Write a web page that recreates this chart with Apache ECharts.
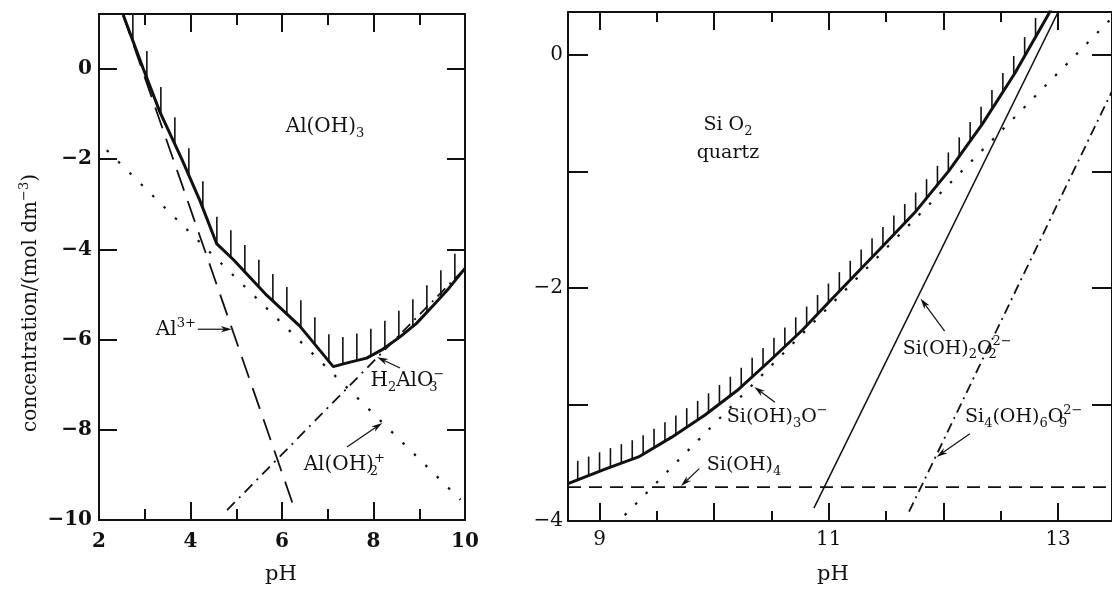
<!DOCTYPE html>
<html>
<head>
<meta charset="utf-8">
<script src="https://cdn.jsdelivr.net/npm/echarts@6/dist/echarts.min.js"></script>
<style>
  html, body { margin: 0; padding: 0; background: #fff; }
  #main { width: 1112px; height: 589px; }
</style>
</head>
<body>
<div id="main"></div>
<script>
// ---- Al(OH)3 panel (pH 2..10) ----
var alBoundary = [[2.53,1.2],[2.97,0.0],[3.33,-0.95],[3.81,-2.0],[4.21,-2.93],[4.57,-3.87],[4.94,-4.23],
  [5.67,-5.02],[6.39,-5.7],[7.12,-6.6],[7.49,-6.5],[7.85,-6.41],[8.21,-6.21],[8.58,-5.94],[8.94,-5.64],
  [9.31,-5.24],[9.64,-4.87],[10,-4.42]];
var alAl3 = [[2.52,1.22],[6.29,-9.8]];
var alOH2 = [[2.17,-1.8],[9.9,-9.55]];
var alH2AlO3 = [[4.8,-9.78],[10,-4.42]];
var alTicksY = [-10,-8,-6,-4,-2,0];

// ---- SiO2 quartz panel (pH 8.7..13.5) ----
var siBoundary = [[8.725,-3.68],[9.06,-3.55],[9.34,-3.45],[9.63,-3.28],[9.92,-3.09],[10.2,-2.88],[10.49,-2.62],
  [10.77,-2.36],[11.02,-2.1],[11.48,-1.63],[11.76,-1.34],[12.05,-0.99],[12.34,-0.59],[12.62,-0.16],
  [12.91,0.34],[12.94,0.40]];
var siOH4 = [[8.725,-3.71],[13.47,-3.71]];
var siOH3O = [[9.22,-3.95],[13.47,0.32]];
var siOH2O2 = [[10.87,-3.89],[13.05,0.47]];
var si4OH6O9 = [[11.7,-3.92],[13.47,-0.31]];
var siTicksX = [9,10,11,12,13];
var siMinorX = [9.5,10.5,11.5,12.5,13.5];
var siLabelsX = [9,11,13];
var siTicksY = [-4,-3,-2,-1,0];
var siLabelsY = [-4,-2,0];

// annotations: [text, pH, log c]
var alNotes = [
  ['Al(OH){sub|3}', 6.94, -1.29],
  ['Al{sup|3+}', 3.68, -5.79],
  ['H{sub|2}AlO{stk|3}{sup|\u2212}', 8.74, -6.92],
  ['Al(OH){stk|2}{sup|+}', 7.36, -8.78]
];
// arrows: [tail pH, tail c, head pH, head c]
var alArrows = [
  [4.16, -5.77, 4.90, -5.77],
  [8.58, -6.63, 8.08, -6.39],
  [7.42, -8.38, 8.19, -7.85]
];
var siNotes = [
  ['Si O{sub|2}', 10.12, -0.60],
  ['quartz', 10.12, -0.84],
  ['Si(OH){sub|3}O{sup|\u2212}', 10.55, -3.11],
  ['Si(OH){sub|4}', 10.26, -3.52],
  ['Si(OH){sub|2}O{stk|2}{sup|2\u2212}', 12.12, -2.52],
  ['Si{sub|4}(OH){sub|6}O{stk|9}{sup|2\u2212}', 12.70, -3.11]
];
var siArrows = [
  [10.53, -2.98, 10.35, -2.85],
  [9.87, -3.55, 9.71, -3.70],
  [12.01, -2.37, 11.80, -2.09],
  [12.23, -3.25, 11.94, -3.45]
];

var INK = '#111';
var FONT = 'DejaVu Serif';

function fmt(v) { return v < 0 ? '\u2212' + Math.abs(v) : String(v); }

var richSub = {
  sub: { fontSize: 13, lineHeight: 13, verticalAlign: 'bottom', fontFamily: FONT, color: INK },
  sup: { fontSize: 13, lineHeight: 13, verticalAlign: 'top', fontFamily: FONT, color: INK },
  stk: { fontSize: 13, lineHeight: 13, verticalAlign: 'bottom', width: 0, fontFamily: FONT, color: INK }
};

function xAxisCfg(grid, pos, extra) {
  var a = {
    gridIndex: grid, type: 'value', position: pos,
    axisLine: { show: true, onZero: false, lineStyle: { color: INK, width: 2 } },
    axisTick: { show: true, inside: true, length: 18, lineStyle: { color: INK, width: 2 } },
    axisLabel: { show: false },
    splitLine: { show: false }
  };
  return Object.assign(a, extra);
}
function yAxisCfg(grid, pos, extra) {
  var a = {
    gridIndex: grid, type: 'value', position: pos,
    axisLine: { show: true, onZero: false, lineStyle: { color: INK, width: 2 } },
    axisTick: { show: true, inside: true, length: 18, lineStyle: { color: INK, width: 2 } },
    axisLabel: { show: false },
    splitLine: { show: false }
  };
  return Object.assign(a, extra);
}

function line(data, xi, yi, width, type, cap) {
  return {
    type: 'line', xAxisIndex: xi, yAxisIndex: yi, data: data,
    symbol: 'none', silent: true, animation: false,
    itemStyle: { color: INK },
    lineStyle: { color: INK, width: width, type: type || 'solid', cap: cap || 'butt' }
  };
}

// vertical hatch strokes on the upper side of the solubility boundary
function hatch(curve, xi, yi, fromX, toX, step, len) {
  return {
    type: 'custom', xAxisIndex: xi, yAxisIndex: yi, silent: true, clip: true,
    data: [curve[0]],
    renderItem: function (params, api) {
      var pts = curve.map(function (p) { return api.coord(p); });
      var a = api.coord([fromX, 0])[0], b = api.coord([toX, 0])[0];
      var kids = [];
      for (var x = a; x <= b + 0.5; x += step) {
        for (var i = 1; i < pts.length; i++) {
          if (x >= pts[i - 1][0] && x <= pts[i][0]) {
            var t = (x - pts[i - 1][0]) / ((pts[i][0] - pts[i - 1][0]) || 1);
            var y = pts[i - 1][1] + t * (pts[i][1] - pts[i - 1][1]);
            kids.push({ type: 'line', shape: { x1: x, y1: y, x2: x, y2: y - len },
              style: { stroke: INK, lineWidth: 1.6 } });
            break;
          }
        }
      }
      return { type: 'group', children: kids };
    }
  };
}

function notes(list, xi, yi, size) {
  return {
    type: 'scatter', xAxisIndex: xi, yAxisIndex: yi, silent: true, animation: false,
    symbolSize: 1, itemStyle: { color: 'rgba(0,0,0,0)', opacity: 1 },
    data: list.map(function (n) {
      return { value: [n[1], n[2]], label: { formatter: n[0] } };
    }),
    label: {
      show: true, position: 'inside', color: INK, fontFamily: FONT,
      fontSize: size, lineHeight: 26, rich: richSub
    }
  };
}

// thin pointer lines with a filled arrow head at the curve end
function arrows(list, xi, yi) {
  return {
    type: 'custom', xAxisIndex: xi, yAxisIndex: yi, silent: true, animation: false,
    data: list,
    renderItem: function (params, api) {
      var p = api.coord([api.value(0), api.value(1)]);
      var q = api.coord([api.value(2), api.value(3)]);
      var ang = Math.atan2(q[1] - p[1], q[0] - p[0]);
      var L = 11, W = 3.2;
      var bx = q[0] - L * Math.cos(ang), by = q[1] - L * Math.sin(ang);
      var nx = -Math.sin(ang) * W, ny = Math.cos(ang) * W;
      var mx = q[0] - 0.7 * L * Math.cos(ang), my = q[1] - 0.7 * L * Math.sin(ang);
      return {
        type: 'group',
        children: [
          { type: 'line', shape: { x1: p[0], y1: p[1], x2: mx, y2: my },
            style: { stroke: INK, lineWidth: 1.2 } },
          { type: 'polygon', shape: { points: [q, [bx + nx, by + ny], [mx, my], [bx - nx, by - ny]] },
            style: { fill: INK } }
        ]
      };
    }
  };
}

var tickLabel = { show: true, color: INK, fontFamily: FONT, fontSize: 20, formatter: fmt };

var chart = echarts.init(document.getElementById('main'));
chart.setOption({
  animation: false,
  backgroundColor: '#fff',
  grid: [
    { left: 99, top: 14, width: 366, height: 506 },
    { left: 568, top: 12, width: 553, height: 509 },
    { left: 568, top: 12, width: 553, height: 509 }
  ],
  xAxis: [
    xAxisCfg(0, 'bottom', { min: 2, max: 10, interval: 2,
      minorTick: { show: true, splitNumber: 2, length: 11, lineStyle: { color: INK, width: 2 } },
      axisLabel: Object.assign({}, tickLabel, { margin: 12, fontWeight: 'bold' }) }),
    xAxisCfg(0, 'top', { min: 2, max: 10, interval: 2,
      minorTick: { show: true, splitNumber: 2, length: 11, lineStyle: { color: INK, width: 2 } } }),
    xAxisCfg(1, 'bottom', { min: 8.725, max: 13.47,
      axisTick: { show: true, inside: true, length: 18, customValues: siTicksX, lineStyle: { color: INK, width: 2 } },
      axisLabel: Object.assign({}, tickLabel, { margin: 9, customValues: siLabelsX }) }),
    xAxisCfg(1, 'top', { min: 8.725, max: 13.47,
      axisTick: { show: true, inside: true, length: 18, customValues: siTicksX, lineStyle: { color: INK, width: 2 } } }),
    xAxisCfg(2, 'bottom', { min: 8.725, max: 13.47, axisLine: { show: false, onZero: false },
      axisTick: { show: true, inside: true, length: 10, customValues: siMinorX, lineStyle: { color: INK, width: 2 } } }),
    xAxisCfg(2, 'top', { min: 8.725, max: 13.47, axisLine: { show: false, onZero: false },
      axisTick: { show: true, inside: true, length: 10, customValues: siMinorX, lineStyle: { color: INK, width: 2 } } })
  ],
  yAxis: [
    yAxisCfg(0, 'left', { min: -10, max: 1.22,
      axisTick: { show: true, inside: true, length: 18, customValues: alTicksY, lineStyle: { color: INK, width: 2 } },
      axisLabel: Object.assign({}, tickLabel, { margin: 7, fontWeight: 'bold', customValues: alTicksY }) }),
    yAxisCfg(0, 'right', { min: -10, max: 1.22,
      axisTick: { show: true, inside: true, length: 18, customValues: alTicksY, lineStyle: { color: INK, width: 2 } } }),
    yAxisCfg(1, 'left', { min: -4, max: 0.37,
      axisTick: { show: true, inside: true, length: 20, customValues: siTicksY, lineStyle: { color: INK, width: 2 } },
      axisLabel: Object.assign({}, tickLabel, { margin: 5, customValues: siLabelsY }) }),
    yAxisCfg(1, 'right', { min: -4, max: 0.37,
      axisTick: { show: true, inside: true, length: 20, customValues: siTicksY, lineStyle: { color: INK, width: 2 } } }),
    { gridIndex: 2, type: 'value', show: false, min: -4, max: 0.37 }
  ],
  graphic: [
    { type: 'text', x: 31, y: 303, rotation: Math.PI / 2, silent: true,
      style: { text: 'concentration/(mol dm{sup|\u22123})', fill: INK, fontFamily: FONT, fontSize: 20,
        align: 'center', verticalAlign: 'middle', lineHeight: 26,
        rich: { sup: { fontSize: 13, lineHeight: 13, verticalAlign: 'top', fontFamily: FONT, fill: INK } } } },
    { type: 'text', x: 281, y: 575, silent: true,
      style: { text: 'pH', fill: INK, fontFamily: FONT, fontSize: 21, align: 'center', verticalAlign: 'middle' } },
    { type: 'text', x: 833, y: 575, silent: true,
      style: { text: 'pH', fill: INK, fontFamily: FONT, fontSize: 21, align: 'center', verticalAlign: 'middle' } }
  ],
  series: [
    line(alAl3, 0, 0, 1.8, [22, 11]),
    line(alOH2, 0, 0, 2.2, [2.5, 13.5]),
    line(alH2AlO3, 0, 0, 1.8, [11, 6, 2, 6]),
    line(alBoundary, 0, 0, 3),
    hatch(alBoundary, 0, 0, 2.74, 9.8, 14, 27),
    notes(alNotes, 0, 0, 20),
    arrows(alArrows, 0, 0),

    line(siOH4, 2, 2, 1.8, [13, 8]),
    line(siOH3O, 2, 2, 2.2, [2.5, 12.5]),
    line(siOH2O2, 2, 2, 1.5),
    line(si4OH6O9, 2, 2, 1.8, [10, 5, 2, 5]),
    line(siBoundary, 2, 2, 3),
    hatch(siBoundary, 2, 2, 8.81, 12.84, 10.9, 19),
    notes(siNotes, 2, 2, 19),
    arrows(siArrows, 2, 2)
  ]
});
</script>
</body>
</html>
